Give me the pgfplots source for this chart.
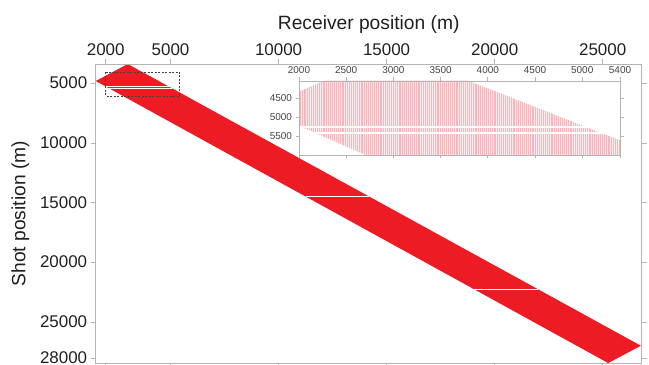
\documentclass[border=0pt]{standalone}
\usepackage{fontspec}
\setmainfont{Liberation Sans}
\usepackage{pgfplots}
\pgfplotsset{compat=1.18}
\usetikzlibrary{patterns.meta}
\definecolor{bandred}{RGB}{237,28,36}
\definecolor{axgrey}{RGB}{180,180,180}
\definecolor{txt}{RGB}{35,31,32}
\definecolor{pinkbase}{RGB}{253,234,236}
\definecolor{pinkline}{RGB}{247,182,188}
\begin{document}
\begin{tikzpicture}
\path[use as bounding box] (0bp,0bp) rectangle (649bp,365bp);
\begin{axis}[
  at={(95.7bp,301bp)}, anchor=north west,
  scale only axis, width=546bp, height=299.5bp,
  xmin=1537, xmax=26806, ymin=3385, ymax=28443, y dir=reverse,
  xtick={2000,5000,10000,15000,20000,25000},
  ytick={5000,10000,15000,20000,25000,28000},
  xticklabel pos=upper, tick pos=both, tick align=outside,
  major tick length=5bp,
  axis line style={axgrey, line width=0.9bp},
  tick style={axgrey, line width=0.9bp},
  scaled ticks=false,
  /pgf/number format/set thousands separator={},
  /pgf/number format/assume math mode=true,
  ticklabel style={font=\fontsize{17}{19}\selectfont, text=txt},
  yticklabel style={yshift=0.6bp},
  xlabel={Receiver position (m)}, ylabel={Shot position (m)},
  label style={font=\fontsize{19.3}{22}\selectfont, text=txt},
  xlabel style={at={(axis description cs:0.5,1.11586)}, anchor=base},
  ylabel style={at={(axis description cs:-0.13773,0.5)}, anchor=center},
  axis on top,
]
\addplot[draw=none, fill=bandred] coordinates {(3020,3385) (26768,26958) (25254,28406) (1537,4808) (3020,3385)};
\addplot[white, line width=1bp] coordinates {(2001,5270) (4919,5270)};
\addplot[white, line width=1bp] coordinates {(2152,5420) (5070,5420)};
\addplot[white, line width=1bp] coordinates {(11268,14490) (14207,14490)};
\addplot[white, line width=1bp] coordinates {(19030,22213) (21987,22213)};
\addplot[txt!85, line width=0.7bp, dash pattern=on 2bp off 1.5bp] coordinates {(2000,4050) (5400,4050) (5400,6050) (2000,6050) (2000,4050)};
\end{axis}
\begin{axis}[
  at={(299bp,284bp)}, anchor=north west,
  scale only axis, width=321bp, height=74bp,
  xmin=2000, xmax=5400, ymin=4045, ymax=6005, y dir=reverse,
  xtick={2000,2500,3000,3500,4000,4500,5000,5400},
  ytick={4500,5000,5500},
  xticklabel pos=upper, tick pos=both, tick align=outside,
  major tick length=3.5bp,
  axis line style={axgrey, line width=0.8bp},
  tick style={axgrey, line width=0.8bp},
  axis background/.style={fill=white},
  scaled ticks=false,
  /pgf/number format/set thousands separator={},
  /pgf/number format/assume math mode=true,
  ticklabel style={font=\fontsize{10}{12}\selectfont, text=txt!85},
  axis on top,
]
\addplot[draw=none, preaction={fill=pinkbase}, pattern={Lines[angle=90,distance=1.9bp,line width=0.9bp]}, pattern color=pinkline] coordinates {(2000,4330) (2298,4000) (3756,4000) (5500,5717) (5500,6100) (2791,6100) (2000,5230) (2000,4330)};
\addplot[white, line width=1.8bp] coordinates {(2000,5270) (5400,5270)};
\addplot[white, line width=1.8bp] coordinates {(2000,5420) (5400,5420)};
\end{axis}
\end{tikzpicture}
\end{document}
